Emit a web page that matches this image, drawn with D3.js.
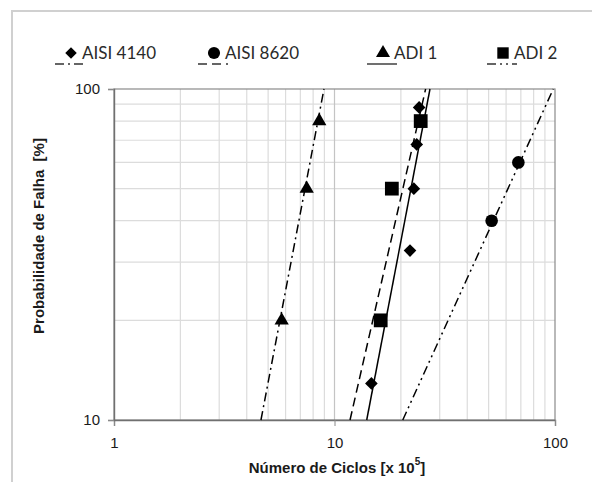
<!DOCTYPE html>
<html>
<head>
<meta charset="utf-8">
<script src="https://cdn.jsdelivr.net/npm/d3@7"></script>
<style>
  body { margin: 0; background: #fff; }
  .canva { width: 592px; height: 482px; }
  .arial { font-family: "Liberation Sans", Arial, sans-serif; }
  .legendText { font-family: Lato, "Open Sans", sans-serif; }
</style>
</head>
<body>
<div class="canva"></div>
<script>
// series names (legend order)
var seriesNames = ["AISI 4140", "AISI 8620", "ADI 1", "ADI 2"];

// measured points: number of cycles [x 10^5] and failure probability [%]
var cycles4140 = [14.7, 22.0, 22.9, 23.6, 24.2];
var prob4140   = [12.9, 32.5, 50, 68, 88];

var cycles8620 = [51.6, 68.2];
var prob8620   = [40, 60];

var cyclesADI1 = [5.76, 7.48, 8.53];
var probADI1   = [20, 50, 80];

var cyclesADI2 = [16.2, 18.2, 24.6];
var probADI2   = [20, 50, 80];

// fitted lines: cycles at 10 % and 100 %
var fitProb    = [10, 100];
var fit4140    = [14.0, 27.1];
var fit8620    = [20.4, 98.2];
var fitADI1    = [4.64, 8.96];
var fitADI2    = [11.76, 25.9];

var xTicks = [1, 10, 100];
var yTicks = [10, 100];

const canvas = d3.select(".canva");
const svg = canvas.append("svg")
                  .attr("width", 592)
                  .attr("height", 482);

// outer frame
svg.append("rect")
   .attr("x", 12).attr("y", 11)
   .attr("width", 600).attr("height", 500)
   .attr("fill", "none")
   .attr("stroke", "#d0d0d0")
   .attr("stroke-width", 2);

const margin = {top: 89, right: 37, bottom: 62, left: 114};
const graphWidth = 592 - margin.left - margin.right;
const graphHeight = 482 - margin.top - margin.bottom;

const mainCanvas = svg.append("g")
                      .attr("transform", `translate(${margin.left},${margin.top})`);

var x = d3.scaleLog()
          .domain([1, 100])
          .range([0, graphWidth]);

var y = d3.scaleLog()
          .domain([10, 100])
          .range([graphHeight, 0]);

// minor grid
var xMinor = x.ticks().filter(d => xTicks.indexOf(d) < 0);
var yMinor = y.ticks().filter(d => yTicks.indexOf(d) < 0);

mainCanvas.selectAll(".vgrid")
          .data(xMinor)
          .enter()
          .append("line")
          .attr("x1", d => x(d)).attr("x2", d => x(d))
          .attr("y1", 0).attr("y2", graphHeight)
          .attr("stroke", "#dcdcdc")
          .attr("stroke-width", 1.2);

mainCanvas.selectAll(".hgrid")
          .data(yMinor)
          .enter()
          .append("line")
          .attr("y1", d => y(d)).attr("y2", d => y(d))
          .attr("x1", 0).attr("x2", graphWidth)
          .attr("stroke", "#dcdcdc")
          .attr("stroke-width", 1.2);

// major grid line at 10
mainCanvas.append("line")
          .attr("x1", x(10)).attr("x2", x(10))
          .attr("y1", 0).attr("y2", graphHeight)
          .attr("stroke", "#c4c4c4")
          .attr("stroke-width", 1.2);

// plot box
mainCanvas.append("rect")
          .attr("width", graphWidth)
          .attr("height", graphHeight)
          .attr("fill", "none")
          .attr("stroke", "#8a8a8a")
          .attr("stroke-width", 1.2);

// axes
var xAxis = d3.axisBottom(x)
              .tickValues(xTicks)
              .tickFormat(d3.format("d"))
              .tickSize(6)
              .tickPadding(11);
var gx = mainCanvas.append("g")
          .attr("transform", "translate(0," + graphHeight + ")")
          .call(xAxis);

var yAxis = d3.axisLeft(y)
              .tickValues(yTicks)
              .tickFormat(d3.format("d"))
              .tickSize(6)
              .tickPadding(8);
var gy = mainCanvas.append("g")
          .call(yAxis);

[gx, gy].forEach(function(g) {
  g.attr("font-family", null).attr("font-size", null);
  g.select(".domain").attr("stroke", "#707070").attr("stroke-width", 1.4);
  g.selectAll(".tick line").attr("stroke", "#8a8a8a");
  g.selectAll("text")
   .attr("class", "arial")
   .attr("font-size", 15)
   .attr("fill", "#1a1a1a");
});

// fitted lines
var dashDot = "9,4,2,4";
var dashDotDot = "9,4,2,4,2,4";
var dashed = "9,5";

var fits = [
  {xs: fit4140, dash: null},
  {xs: fit8620, dash: dashDotDot},
  {xs: fitADI1, dash: dashDot},
  {xs: fitADI2, dash: dashed}
];

var fitLine = d3.line()
                .x(d => x(d[0]))
                .y(d => y(d[1]));

fits.forEach(function(f) {
  mainCanvas.append("path")
            .datum(f.xs.map((c, i) => [c, fitProb[i]]))
            .attr("d", fitLine)
            .attr("fill", "none")
            .attr("stroke", "#000")
            .attr("stroke-width", 1.5)
            .attr("stroke-dasharray", f.dash);
});

// markers (diamond = square turned 45 degrees)
var symbols = [d3.symbolSquare, d3.symbolCircle, d3.symbolTriangle, d3.symbolSquare];
var rotations = [45, 0, 0, 0];
var sizes = [80, 125, 88, 190];
var pointSets = [
  {xs: cycles4140, ys: prob4140},
  {xs: cycles8620, ys: prob8620},
  {xs: cyclesADI1, ys: probADI1},
  {xs: cyclesADI2, ys: probADI2}
];

pointSets.forEach(function(s, k) {
  mainCanvas.selectAll(".pt" + k)
            .data(s.xs)
            .enter()
            .append("path")
            .attr("d", d3.symbol().type(symbols[k]).size(sizes[k]))
            .attr("transform", (d, i) => `translate(${x(d)},${y(s.ys[i])}) rotate(${rotations[k]})`)
            .attr("fill", "#000");
});

// legend
var legendX = [71, 214, 383, 503];
var legendSizes = [66, 115, 85, 130];
var legendDash = [dashDot, dashed, null, dashDotDot];

var legend = svg.append("g");
seriesNames.forEach(function(name, k) {
  var g = legend.append("g").attr("transform", `translate(${legendX[k]},53)`);
  g.append("line")
   .attr("x1", -16).attr("x2", 14)
   .attr("y1", 11).attr("y2", 11)
   .attr("stroke", "#333")
   .attr("stroke-width", 1.4)
   .attr("stroke-dasharray", legendDash[k]);
  g.append("path")
   .attr("d", d3.symbol().type(symbols[k]).size(legendSizes[k]))
   .attr("transform", `rotate(${rotations[k]})`)
   .attr("fill", "#000");
  g.append("text")
   .attr("class", "legendText")
   .attr("x", 11)
   .attr("y", 6)
   .attr("font-size", 17)
   .attr("fill", "#2a2a2a")
   .text(name);
});

// axis titles
var xTitle = svg.append("text")
   .attr("class", "arial")
   .attr("x", 337)
   .attr("y", 473)
   .attr("text-anchor", "middle")
   .attr("font-weight", "bold")
   .attr("font-size", 15)
   .attr("fill", "#1a1a1a");
xTitle.append("tspan").text("Número de Ciclos [x 10");
xTitle.append("tspan").attr("dy", -8).attr("font-size", 10).text("5");
xTitle.append("tspan").attr("dy", 8).text("]");

svg.append("text")
   .attr("class", "arial")
   .attr("transform", "translate(44,236) rotate(-90)")
   .attr("text-anchor", "middle")
   .attr("font-weight", "bold")
   .attr("font-size", 15)
   .attr("fill", "#1a1a1a")
   .style("white-space", "pre")
   .text("Probabilidade de Falha  [%]");
</script>
</body>
</html>
